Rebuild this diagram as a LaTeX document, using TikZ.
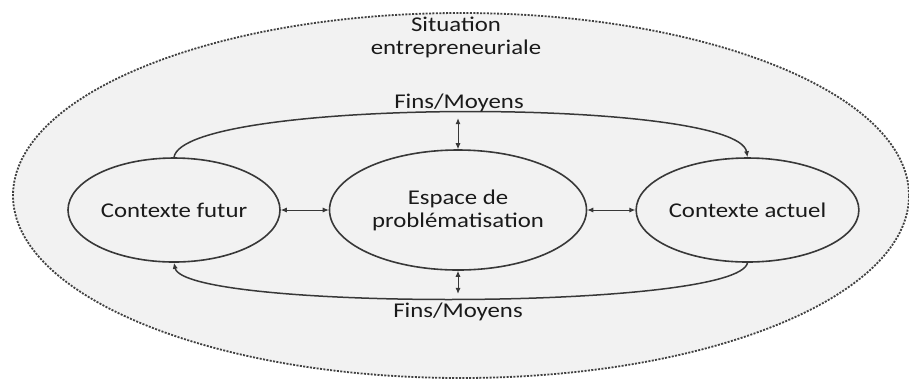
\documentclass[tikz,border=0pt]{standalone}
\usepackage{fontspec}
\setmainfont{Carlito}[FakeStretch=1.18]
\usetikzlibrary{arrows.meta,shapes.geometric}
\definecolor{fond}{HTML}{F2F2F2}
\definecolor{trait}{HTML}{383838}
\definecolor{texte}{HTML}{1A1A1A}
\definecolor{pointille}{HTML}{404040}

\begin{document}
\begin{tikzpicture}[x=0.5pt,y=-0.5pt,
  every node/.style={font=\fontsize{10.5}{11.5}\selectfont,text=texte},
  bulle/.style={ellipse,draw=trait,line width=0.8pt,inner sep=0pt,align=center},
  fleche/.style={{Latex[length=3pt,width=2.6pt]}-{Latex[length=3pt,width=2.6pt]},draw=trait,line width=0.5pt},
  boucle/.style={-{Latex[length=3pt,width=2.6pt]},draw=trait,line width=0.75pt}]

\useasboundingbox (0,0) rectangle (909,382);

% situation entrepreneuriale
\node[bulle,draw=pointille,dash pattern=on 1pt off 0.7pt,line width=0.9pt,fill=fond,
      minimum width=448pt,minimum height=182.5pt] (sit) at (461,195.5) {};
\node[align=center] (titre) at (456,37) {Situation\\entrepreneuriale};

% les trois espaces
\node[bulle,minimum width=106pt,minimum height=52pt] (futur) at (174,210) {Contexte futur};
\node[bulle,minimum width=128.5pt,minimum height=60pt] (espace) at (458,210) {Espace de\\probl\'ematisation};
\node[bulle,minimum width=105.5pt,minimum height=52pt] (actuel) at (747.5,210) {Contexte actuel};

\draw[fleche] (futur) -- (espace);
\draw[fleche] (espace) -- (actuel);

% boucles fins/moyens
\draw[boucle] (futur.north) .. controls +(10,-60) and +(-10,-60) .. (actuel.north) coordinate[pos=0.5] (haut);
\draw[boucle] (actuel.south) .. controls +(-10,48) and +(10,48) .. (futur.south) coordinate[pos=0.5] (bas);

\draw[fleche,shorten <=3pt] (espace.north |- haut) -- (espace.north);
\draw[fleche,shorten >=2.5pt] (espace.south) -- (espace.south |- bas);

\node (fmh) at (459,103) {Fins/Moyens};
\node (fmb) at (458,312) {Fins/Moyens};
\end{tikzpicture}
\end{document}
